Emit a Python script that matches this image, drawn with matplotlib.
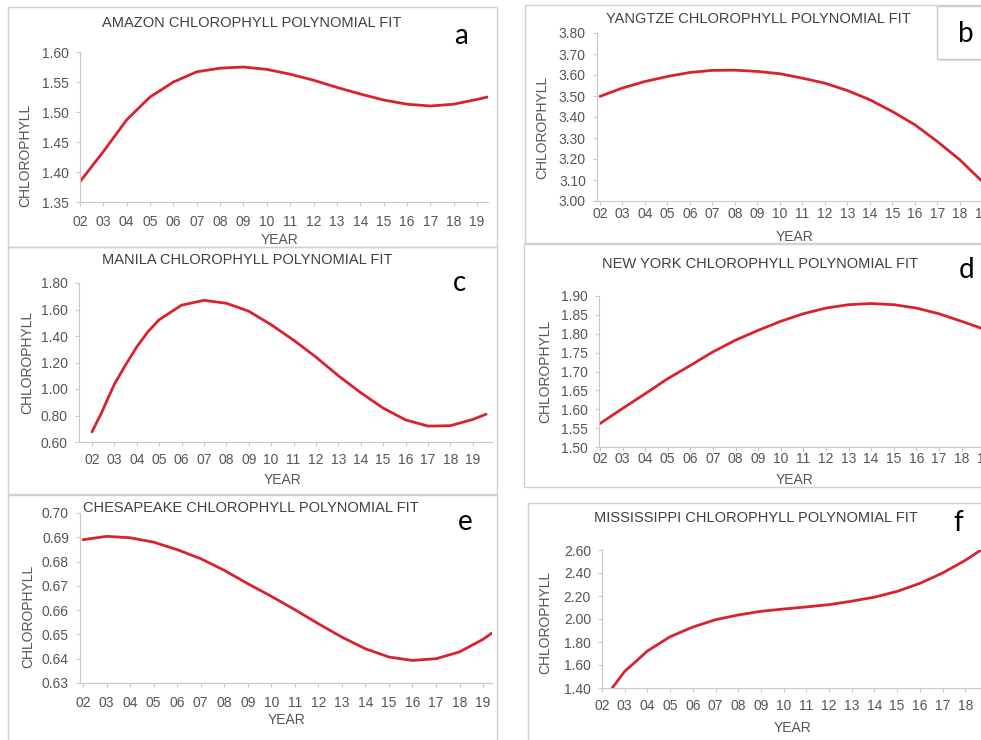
import matplotlib
matplotlib.use("Agg")
import matplotlib.pyplot as plt
from matplotlib.patches import Rectangle

plt.rcParams['font.family'] = ['Liberation Sans', 'DejaVu Sans']

W, H = 981, 740

# values (year -> chlorophyll)
years = list(range(2002, 2020))
year_labels = ["%02d" % (y - 2000) for y in years]

amazon_x = years + [2019.45]
amazon_y = [1.384, 1.434, 1.487, 1.525, 1.550, 1.567, 1.573, 1.575, 1.571,
            1.563, 1.553, 1.541, 1.530, 1.520, 1.513, 1.510, 1.513, 1.521, 1.525]

yangtze_x = years
yangtze_y = [3.498, 3.538, 3.569, 3.593, 3.612, 3.622, 3.623, 3.617, 3.606,
             3.585, 3.561, 3.526, 3.482, 3.426, 3.363, 3.283, 3.196, 3.092]

manila_x = [2002, 2002.42, 2002.72, 2003, 2003.5, 2004, 2004.5, 2005] + years[4:] + [2019.6]
manila_y = [0.677, 0.818, 0.933, 1.036, 1.182, 1.318, 1.433, 1.523,
            1.633, 1.669, 1.647, 1.587, 1.485, 1.369, 1.241, 1.100, 0.972,
            0.856, 0.767, 0.720, 0.723, 0.770, 0.810]

newyork_x = years
newyork_y = [1.562, 1.602, 1.641, 1.681, 1.716, 1.752, 1.783, 1.809, 1.833,
             1.853, 1.868, 1.877, 1.880, 1.877, 1.868, 1.853, 1.833, 1.812]

chesapeake_x = years + [2019.38]
chesapeake_y = [0.689, 0.6904, 0.6898, 0.688, 0.6849, 0.6812, 0.6764, 0.6709, 0.6657,
                0.6602, 0.6544, 0.6489, 0.6441, 0.6407, 0.6393, 0.640, 0.6428, 0.648, 0.6506]

mississippi_x = [2002.45, 2003, 2003.5] + years[2:]
mississippi_y = [1.40, 1.545, 1.632, 1.722, 1.846, 1.930, 1.994, 2.035, 2.067,
                 2.087, 2.105, 2.125, 2.155, 2.190, 2.240, 2.310, 2.400, 2.510, 2.640]

fig = plt.figure(figsize=(W / 100, H / 100), dpi=100)

def fx(x):
    return x / W

def fy(y):
    return 1 - y / H

def frame(x0, y0, x1, y1):
    fig.add_artist(Rectangle((fx(x0), fy(y1)), fx(x1 - x0), (y1 - y0) / H,
                             transform=fig.transFigure, fill=False,
                             edgecolor='#d0d0d0', lw=1.0))

def panel(box, xlim, ylim, yticks, x, y, title, tpos, letter, lpos,
          ylab_pos, xlab_pos, xpad):
    l, t, r, b = box
    ax = fig.add_axes([fx(l), fy(b), fx(r - l), (b - t) / H])
    ax.plot(x, y, color='#d8232f', lw=2.0, solid_capstyle='round')
    ax.set_xlim(*xlim)
    ax.set_ylim(*ylim)
    ax.set_xticks(years)
    ax.set_xticklabels(year_labels)
    ax.set_yticks(yticks)
    ax.set_yticklabels(["%.2f" % v for v in yticks])
    for s in ['top', 'right']:
        ax.spines[s].set_visible(False)
    for s in ['left', 'bottom']:
        ax.spines[s].set_color('#c8c8c8')
        ax.spines[s].set_linewidth(0.8)
    ax.tick_params(axis='both', colors='#c8c8c8', labelcolor='#555555',
                   labelsize=10, length=3, width=0.8)
    ax.tick_params(axis='y', pad=5)
    ax.tick_params(axis='x', pad=xpad)
    ax.patch.set_alpha(0)
    fig.text(fx(tpos[0]), fy(tpos[1]), title, ha='center', va='center',
             fontsize=10.5, color='#404040')
    fig.text(fx(ylab_pos[0]), fy(ylab_pos[1]), "CHLOROPHYLL", rotation=90,
             ha='center', va='center', fontsize=10, color='#555555')
    fig.text(fx(xlab_pos[0]), fy(xlab_pos[1]), "YEAR", ha='center', va='center',
             fontsize=10, color='#555555')
    fig.text(fx(lpos[0]), fy(lpos[1]), letter, ha='center', va='center',
             fontsize=20, color='black', family=['Lato', 'DejaVu Sans'])
    return ax

# panel frames
frame(8, 7, 497, 247)
frame(8, 247, 497, 494)
frame(8, 495, 497, 760)
frame(525, 5, 1000, 243)
frame(524, 244, 1000, 487)
frame(528, 503, 1000, 760)

# a
panel((80, 52, 488, 202), (2002, 2019.47), (1.35, 1.60),
      [1.35, 1.40, 1.45, 1.50, 1.55, 1.60], amazon_x, amazon_y,
      "AMAZON CHLOROPHYLL POLYNOMIAL FIT", (252, 23), "a", (461, 36),
      (25, 155), (280, 240), 6.5)
# b
panel((597, 33, 995, 201), (2001.87, 2019.56), (3.00, 3.80),
      [3.0, 3.1, 3.2, 3.3, 3.4, 3.5, 3.6, 3.7, 3.8], yangtze_x, yangtze_y,
      "YANGTZE CHLOROPHYLL POLYNOMIAL FIT", (758, 19), "b", (966, 34),
      (542, 127), (795, 237), 1.0)
# box around b
fig.add_artist(Rectangle((fx(939), fy(61)), fx(60), 52 / H, transform=fig.transFigure,
                         facecolor='#e6e6e6', edgecolor='none', zorder=0.5))
fig.add_artist(Rectangle((fx(937), fy(59)), fx(60), 53 / H, transform=fig.transFigure,
                         facecolor='white', edgecolor='#c8c8c8', lw=1.0, zorder=0.6))
# c
panel((79, 283, 492, 442), (2001.42, 2019.86), (0.60, 1.80),
      [0.6, 0.8, 1.0, 1.2, 1.4, 1.6, 1.8], manila_x, manila_y,
      "MANILA CHLOROPHYLL POLYNOMIAL FIT", (247, 260), "c", (460, 283),
      (27, 362), (283, 480), 5)
# d
panel((599, 296, 995, 447), (2001.96, 2019.48), (1.50, 1.90),
      [1.50, 1.55, 1.60, 1.65, 1.70, 1.75, 1.80, 1.85, 1.90], newyork_x, newyork_y,
      "NEW YORK CHLOROPHYLL POLYNOMIAL FIT", (760, 264), "d", (967, 270),
      (545, 371), (795, 480), 0.5)
# e
panel((80, 513, 492, 683), (2001.87, 2019.38), (0.63, 0.70),
      [0.63, 0.64, 0.65, 0.66, 0.67, 0.68, 0.69, 0.70], chesapeake_x, chesapeake_y,
      "CHESAPEAKE CHLOROPHYLL POLYNOMIAL FIT", (251, 508), "e", (465, 522),
      (28, 616), (287, 720), 6.5)
# f
panel((602, 550, 995, 688), (2002.17, 2019.31), (1.40, 2.60),
      [1.4, 1.6, 1.8, 2.0, 2.2, 2.4, 2.6], mississippi_x, mississippi_y,
      "MISSISSIPPI CHLOROPHYLL POLYNOMIAL FIT", (756, 518), "f", (958, 523),
      (545, 622), (793, 728), 5)

fig.savefig("out.png", dpi=100)
